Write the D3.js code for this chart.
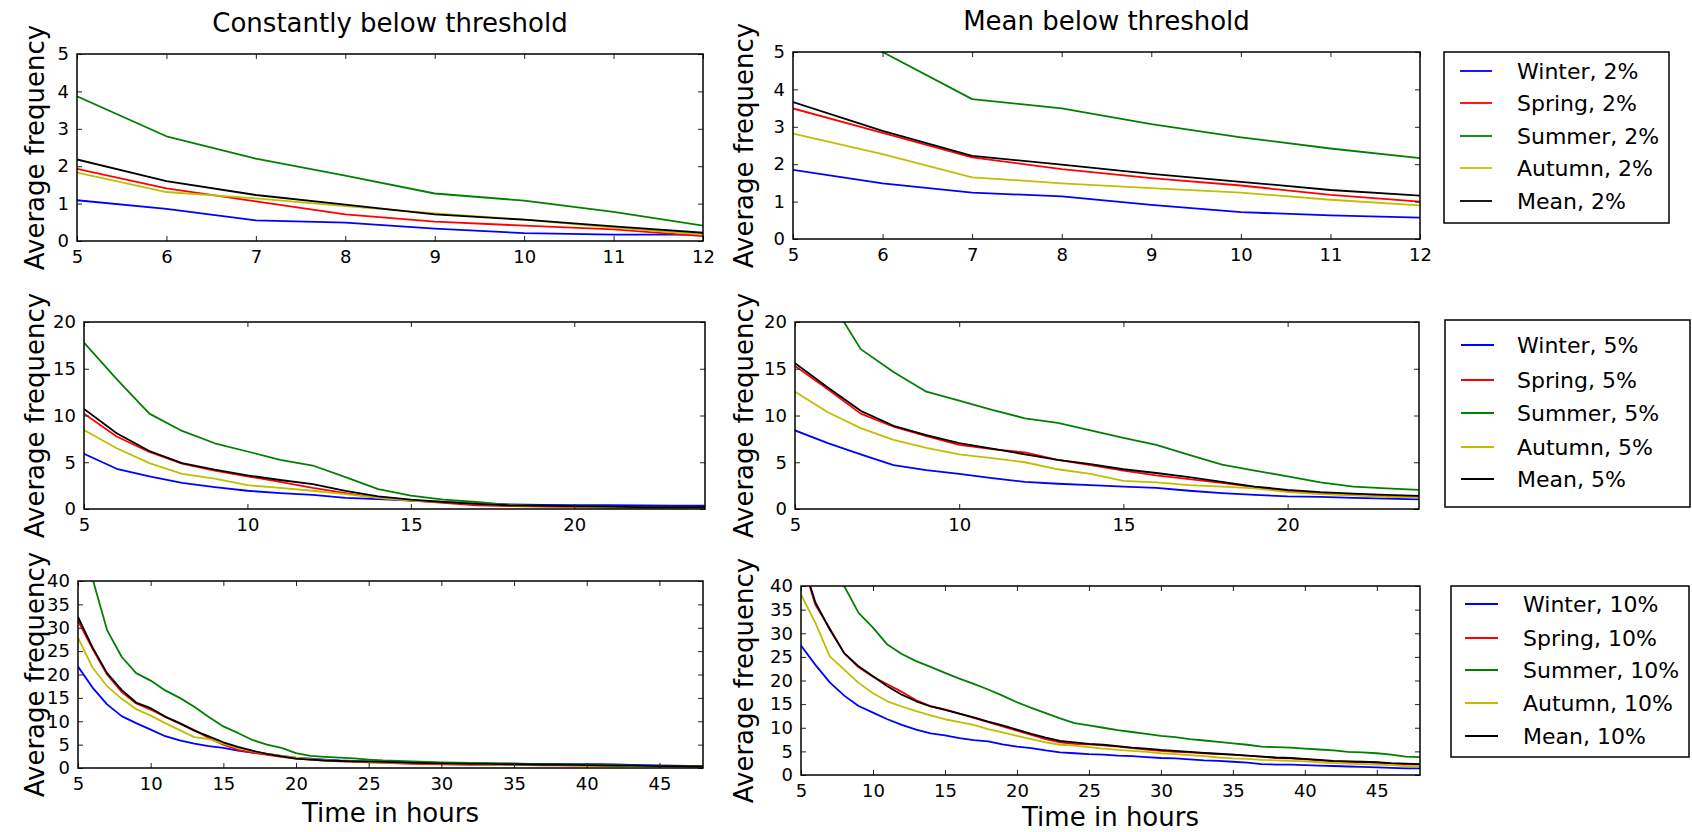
<!DOCTYPE html>
<html><head><meta charset="utf-8">
<script src="https://cdn.jsdelivr.net/npm/d3@7"></script>
<style>
body{margin:0;background:#fff}
svg{display:block}
text{font-family:"DejaVu Sans",sans-serif;fill:#000}
</style>
</head><body>
<svg id="chart" width="1692" height="832"></svg>
<script>
// ---------- categories / labels ----------
const seasons = ["Winter", "Spring", "Summer", "Autumn", "Mean"];
const seasonColors = ["#0000ff", "#ff0000", "#008000", "#bfbf00", "#000000"];
const columnTitles = ["Constantly below threshold", "Mean below threshold"];
const thresholds = ["2%", "5%", "10%"];
const yAxisLabel = "Average frequency";
const xAxisLabel = "Time in hours";

// ---------- x values (hours) ----------
const hours12 = [5, 6, 7, 8, 9, 10, 11, 12];
const hours24 = [5, 6, 7, 8, 9, 10, 11, 12, 13, 14, 15, 16, 17, 18, 19, 20, 21, 22, 23, 24];
const hours48 = [5, 6, 7, 8, 9, 10, 11, 12, 13, 14, 15, 16, 17, 18, 19, 20, 21, 22, 23, 24,
  25, 26, 27, 28, 29, 30, 31, 32, 33, 34, 35, 36, 37, 38, 39, 40, 41, 42, 43, 44, 45, 46, 47, 48];

// ---------- tick labels ----------
const xTicks12 = [5, 6, 7, 8, 9, 10, 11, 12];
const yTicks2 = [0, 1, 2, 3, 4, 5];
const xTicks24 = [5, 10, 15, 20];
const yTicks5 = [0, 5, 10, 15, 20];
const xTicks48 = [5, 10, 15, 20, 25, 30, 35, 40, 45];
const yTicks10 = [0, 5, 10, 15, 20, 25, 30, 35, 40];

// ---------- Constantly below threshold, 2% ----------
const const2Winter = [1.09, 0.86, 0.55, 0.49, 0.33, 0.21, 0.17, 0.17];
const const2Spring = [1.93, 1.41, 1.06, 0.71, 0.52, 0.41, 0.31, 0.13];
const const2Summer = [3.87, 2.80, 2.20, 1.75, 1.27, 1.08, 0.78, 0.41];
const const2Autumn = [1.83, 1.31, 1.14, 0.93, 0.74, 0.57, 0.36, 0.17];
const const2Mean   = [2.18, 1.60, 1.23, 0.97, 0.71, 0.57, 0.39, 0.22];

// ---------- Mean below threshold, 2% ----------
const mean2Winter = [1.85, 1.49, 1.24, 1.14, 0.91, 0.72, 0.63, 0.57];
const mean2Spring = [3.49, 2.84, 2.18, 1.87, 1.63, 1.43, 1.18, 1.00];
const mean2Summer = [6.3, 5.0, 3.74, 3.49, 3.07, 2.72, 2.42, 2.16];
const mean2Autumn = [2.82, 2.27, 1.65, 1.49, 1.36, 1.24, 1.05, 0.90];
const mean2Mean   = [3.66, 2.89, 2.22, 1.99, 1.74, 1.53, 1.31, 1.16];

// ---------- Constantly below threshold, 5% ----------
const const5Winter = [5.9, 4.3, 3.5, 2.8, 2.35, 1.95, 1.7, 1.5, 1.2, 1.05, 0.9, 0.75, 0.6, 0.5, 0.45, 0.42, 0.4, 0.38, 0.36, 0.35];
const const5Spring = [10.2, 7.75, 6.1, 4.85, 4.1, 3.5, 2.9, 2.25, 1.7, 1.2, 0.9, 0.65, 0.4, 0.3, 0.25, 0.2, 0.15, 0.12, 0.1, 0.1];
const const5Summer = [17.8, 13.9, 10.2, 8.35, 7.03, 6.15, 5.26, 4.65, 3.41, 2.13, 1.42, 1.0, 0.75, 0.43, 0.35, 0.3, 0.25, 0.2, 0.15, 0.1];
const const5Autumn = [8.45, 6.5, 4.9, 3.75, 3.25, 2.55, 2.25, 1.95, 1.6, 1.2, 0.9, 0.75, 0.55, 0.4, 0.3, 0.25, 0.2, 0.15, 0.12, 0.1];
const const5Mean   = [10.7, 8.1, 6.2, 4.9, 4.2, 3.6, 3.1, 2.65, 1.95, 1.35, 1.0, 0.75, 0.55, 0.4, 0.35, 0.3, 0.25, 0.2, 0.2, 0.2];

// ---------- Mean below threshold, 5% ----------
const mean5Winter = [8.4, 7.05, 5.85, 4.7, 4.15, 3.75, 3.3, 2.9, 2.7, 2.55, 2.4, 2.25, 1.95, 1.7, 1.5, 1.35, 1.3, 1.2, 1.1, 1.03];
const mean5Spring = [15.3, 12.8, 10.2, 8.8, 7.8, 6.85, 6.4, 6.05, 5.25, 4.7, 4.1, 3.6, 3.2, 2.8, 2.35, 1.9, 1.65, 1.5, 1.35, 1.3];
const mean5Summer = [28, 22.8, 17.1, 14.65, 12.55, 11.6, 10.6, 9.7, 9.2, 8.4, 7.6, 6.85, 5.8, 4.75, 4.1, 3.5, 2.85, 2.4, 2.2, 2.05];
const mean5Autumn = [12.55, 10.35, 8.65, 7.4, 6.55, 5.85, 5.45, 5.0, 4.25, 3.75, 3.0, 2.85, 2.55, 2.4, 2.2, 1.8, 1.6, 1.45, 1.3, 1.25];
const mean5Mean   = [15.6, 13.0, 10.5, 8.9, 7.9, 7.05, 6.45, 5.85, 5.25, 4.8, 4.25, 3.85, 3.4, 2.9, 2.4, 2.05, 1.8, 1.65, 1.5, 1.4];

// ---------- Constantly below threshold, 10% ----------
const const10Winter = [21.7, 17.2, 13.6, 11.1, 9.6, 8.2, 6.8, 5.9, 5.2, 4.7, 4.3, 3.7, 3.3, 3.0, 2.6, 2.2, 2.0, 1.8, 1.6, 1.5,
  1.4, 1.35, 1.3, 1.2, 1.15, 1.1, 1.05, 1.0, 1.0, 0.95, 0.95, 0.9, 0.9, 0.85, 0.85, 0.8, 0.8, 0.75, 0.65, 0.6, 0.55, 0.5, 0.45, 0.4];
const const10Spring = [31.5, 25.5, 20.0, 16.3, 13.8, 12.5, 10.9, 9.5, 8.1, 6.4, 5.0, 3.9, 3.3, 2.8, 2.4, 2.0, 1.8, 1.6, 1.4, 1.3,
  1.2, 1.1, 1.0, 0.9, 0.85, 0.8, 0.75, 0.7, 0.7, 0.65, 0.6, 0.6, 0.55, 0.55, 0.5, 0.5, 0.45, 0.45, 0.4, 0.4, 0.35, 0.35, 0.3, 0.3];
const const10Summer = [47, 40.5, 29.5, 23.8, 20.3, 18.7, 16.6, 15.0, 13.1, 10.9, 8.9, 7.5, 6.0, 5.0, 4.3, 3.2, 2.6, 2.4, 2.2, 2.05,
  1.8, 1.6, 1.5, 1.4, 1.3, 1.2, 1.15, 1.1, 1.05, 1.0, 0.95, 0.9, 0.85, 0.8, 0.75, 0.7, 0.65, 0.6, 0.55, 0.5, 0.45, 0.4, 0.4, 0.35];
const const10Autumn = [27.9, 21.5, 17.5, 14.8, 12.6, 11.2, 9.6, 8.1, 6.6, 6.2, 5.2, 4.3, 3.6, 3.0, 2.6, 2.2, 1.9, 1.7, 1.5, 1.4,
  1.3, 1.2, 1.1, 1.05, 1.0, 0.95, 0.9, 0.85, 0.8, 0.75, 0.7, 0.65, 0.6, 0.6, 0.55, 0.5, 0.5, 0.45, 0.4, 0.4, 0.35, 0.3, 0.3, 0.25];
const const10Mean   = [32.3, 25.8, 20.3, 16.7, 14.0, 12.8, 11.0, 9.6, 8.0, 6.75, 5.5, 4.5, 3.7, 3.0, 2.5, 2.0, 1.8, 1.6, 1.5, 1.4,
  1.35, 1.3, 1.2, 1.1, 1.05, 1.0, 0.95, 0.9, 0.9, 0.85, 0.8, 0.75, 0.7, 0.7, 0.65, 0.6, 0.55, 0.5, 0.5, 0.45, 0.4, 0.4, 0.35, 0.3];

// ---------- Mean below threshold, 10% ----------
const mean10Winter = [27.4, 23.3, 19.6, 16.8, 14.6, 13.2, 11.8, 10.6, 9.6, 8.8, 8.4, 7.8, 7.4, 7.1, 6.5, 6.0, 5.7, 5.2, 4.8, 4.6,
  4.4, 4.3, 4.1, 4.0, 3.8, 3.6, 3.5, 3.3, 3.1, 3.0, 2.8, 2.6, 2.3, 2.2, 2.2, 2.1, 2.0, 1.9, 1.8, 1.7, 1.6, 1.5, 1.4, 1.4];
const mean10Spring = [46, 36, 31, 25.8, 22.8, 20.8, 19.2, 17.6, 15.8, 14.6, 13.9, 13.0, 12.1, 11.2, 10.3, 9.4, 8.5, 7.6, 6.9, 6.6,
  6.5, 6.3, 6.0, 5.7, 5.4, 5.1, 4.9, 4.8, 4.6, 4.4, 4.3, 4.1, 3.9, 3.6, 3.5, 3.3, 3.1, 2.9, 2.8, 2.7, 2.6, 2.4, 2.3, 2.2];
const mean10Summer = [65, 55, 47, 40, 34.3, 31.2, 27.6, 25.6, 24.1, 22.9, 21.6, 20.4, 19.3, 18.1, 16.8, 15.4, 14.2, 13.1, 12.0, 11.0,
  10.5, 10.0, 9.5, 9.1, 8.7, 8.3, 8.0, 7.6, 7.3, 7.0, 6.7, 6.4, 6.0, 5.9, 5.8, 5.6, 5.4, 5.2, 4.9, 4.8, 4.6, 4.3, 3.9, 3.8];
const mean10Autumn = [38.2, 32.2, 25.1, 22.3, 19.5, 17.3, 15.6, 14.5, 13.5, 12.6, 11.8, 11.2, 10.6, 9.7, 9.0, 8.3, 7.6, 6.9, 6.4, 6.2,
  5.9, 5.6, 5.3, 5.1, 4.9, 4.6, 4.4, 4.2, 4.0, 3.7, 3.5, 3.4, 3.2, 3.1, 3.0, 2.9, 2.7, 2.5, 2.4, 2.3, 2.2, 2.1, 1.9, 1.8];
const mean10Mean   = [46.2, 36.5, 30.8, 25.8, 23.0, 20.9, 18.8, 17.0, 15.6, 14.5, 13.8, 13.0, 12.2, 11.3, 10.5, 9.6, 8.7, 7.9, 7.2, 6.9,
  6.6, 6.4, 6.1, 5.8, 5.6, 5.3, 5.1, 4.9, 4.7, 4.5, 4.3, 4.1, 3.9, 3.7, 3.6, 3.4, 3.2, 3.0, 2.9, 2.8, 2.7, 2.5, 2.4, 2.3];

// ---------- panel definitions (built from the arrays above) ----------
const panels = [
  {col: 0, row: 0, box: [77, 703, 54, 241], xs: hours12, xt: xTicks12, yt: yTicks2, xd: [5, 12], yd: [0, 5],
   series: [const2Winter, const2Spring, const2Summer, const2Autumn, const2Mean]},
  {col: 1, row: 0, box: [793, 1420, 52, 239], xs: hours12, xt: xTicks12, yt: yTicks2, xd: [5, 12], yd: [0, 5],
   series: [mean2Winter, mean2Spring, mean2Summer, mean2Autumn, mean2Mean]},
  {col: 0, row: 1, box: [84, 705, 322, 509], xs: hours24, xt: xTicks24, yt: yTicks5, xd: [5, 24], yd: [0, 20],
   series: [const5Winter, const5Spring, const5Summer, const5Autumn, const5Mean]},
  {col: 1, row: 1, box: [795, 1419, 322, 509], xs: hours24, xt: xTicks24, yt: yTicks5, xd: [5, 24], yd: [0, 20],
   series: [mean5Winter, mean5Spring, mean5Summer, mean5Autumn, mean5Mean]},
  {col: 0, row: 2, box: [78, 703, 581, 768], xs: hours48, xt: xTicks48, yt: yTicks10, xd: [5, 48], yd: [0, 40],
   series: [const10Winter, const10Spring, const10Summer, const10Autumn, const10Mean]},
  {col: 1, row: 2, box: [801, 1420, 586, 775], xs: hours48, xt: xTicks48, yt: yTicks10, xd: [5, 48], yd: [0, 40],
   series: [mean10Winter, mean10Spring, mean10Summer, mean10Autumn, mean10Mean]}
];

const legends = [
  {row: 0, box: [1444, 1669, 52, 223], rows: [71, 103, 136, 168, 201], line: [1460, 1492], text: 1517},
  {row: 1, box: [1445, 1690, 320, 507], rows: [345, 380, 413, 447, 479], line: [1461, 1494], text: 1517},
  {row: 2, box: [1451, 1689, 586, 757], rows: [604, 638, 670, 703, 736], line: [1465, 1498], text: 1523}
];

const svg = d3.select("#chart");
const TICK = 5;

panels.forEach((p, i) => {
  const [x0, x1, y0, y1] = p.box;
  const x = d3.scaleLinear().domain(p.xd).range([x0, x1]);
  const y = d3.scaleLinear().domain(p.yd).range([y1, y0]);
  const g = svg.append("g");

  g.append("clipPath").attr("id", "clip" + i)
    .append("rect").attr("x", x0).attr("y", y0).attr("width", x1 - x0).attr("height", y1 - y0);

  const line = d3.line().x((d, k) => x(p.xs[k])).y(d => y(d));
  const lines = g.append("g").attr("clip-path", `url(#clip${i})`);
  p.series.forEach((vals, s) => {
    lines.append("path").datum(vals)
      .attr("d", line)
      .attr("fill", "none")
      .attr("stroke", seasonColors[s])
      .attr("stroke-width", 1.8)
      .attr("stroke-linejoin", "round");
  });

  // axes (inward ticks on all sides)
  const bottom = g.append("g").attr("transform", `translate(0,${y1})`)
    .call(d3.axisBottom(x).tickValues(p.xt).tickSizeInner(-TICK).tickSizeOuter(0).tickPadding(9).tickFormat(d3.format("d")));
  const left = g.append("g").attr("transform", `translate(${x0},0)`)
    .call(d3.axisLeft(y).tickValues(p.yt).tickSizeInner(-TICK).tickSizeOuter(0).tickPadding(8).tickFormat(d3.format("d")));
  const top = g.append("g").attr("transform", `translate(0,${y0})`)
    .call(d3.axisTop(x).tickValues(p.xt).tickSizeInner(-TICK).tickSizeOuter(0).tickFormat(""));
  const right = g.append("g").attr("transform", `translate(${x1},0)`)
    .call(d3.axisRight(y).tickValues(p.yt).tickSizeInner(-TICK).tickSizeOuter(0).tickFormat(""));
  [bottom, left, top, right].forEach(a => {
    a.select(".domain").remove();
    a.selectAll(".tick line").attr("stroke", "#222").attr("stroke-width", 1);
    a.selectAll(".tick text").attr("font-size", 18).attr("font-family", "DejaVu Sans").attr("fill", "#000");
  });

  g.append("rect").attr("x", x0).attr("y", y0).attr("width", x1 - x0).attr("height", y1 - y0)
    .attr("fill", "none").attr("stroke", "#000").attr("stroke-width", 1.5);

  // y label
  const ylx = p.col === 0 ? 44 : 753;
  g.append("text")
    .attr("transform", `translate(${ylx},${(y0 + y1) / 2}) rotate(-90)`)
    .attr("text-anchor", "middle").attr("font-size", 26).text(yAxisLabel);

  // column titles
  if (p.row === 0) {
    g.append("text").attr("x", (x0 + x1) / 2).attr("y", p.col === 0 ? 32 : 30)
      .attr("text-anchor", "middle").attr("font-size", 26).text(columnTitles[p.col]);
  }
  // x label
  if (p.row === 2) {
    g.append("text").attr("x", (x0 + x1) / 2).attr("y", p.col === 0 ? 822 : 826)
      .attr("text-anchor", "middle").attr("font-size", 26).text(xAxisLabel);
  }
});

legends.forEach(L => {
  const [x0, x1, y0, y1] = L.box;
  const g = svg.append("g");
  g.append("rect").attr("x", x0).attr("y", y0).attr("width", x1 - x0).attr("height", y1 - y0)
    .attr("fill", "#fff").attr("stroke", "#000").attr("stroke-width", 1.5);
  seasons.forEach((s, k) => {
    g.append("line").attr("x1", L.line[0]).attr("x2", L.line[1])
      .attr("y1", L.rows[k]).attr("y2", L.rows[k])
      .attr("stroke", seasonColors[k]).attr("stroke-width", 1.8);
    g.append("text").attr("x", L.text).attr("y", L.rows[k]).attr("dy", "0.36em")
      .attr("font-size", 22).text(`${s}, ${thresholds[L.row]}`);
  });
});
</script>
</body></html>
